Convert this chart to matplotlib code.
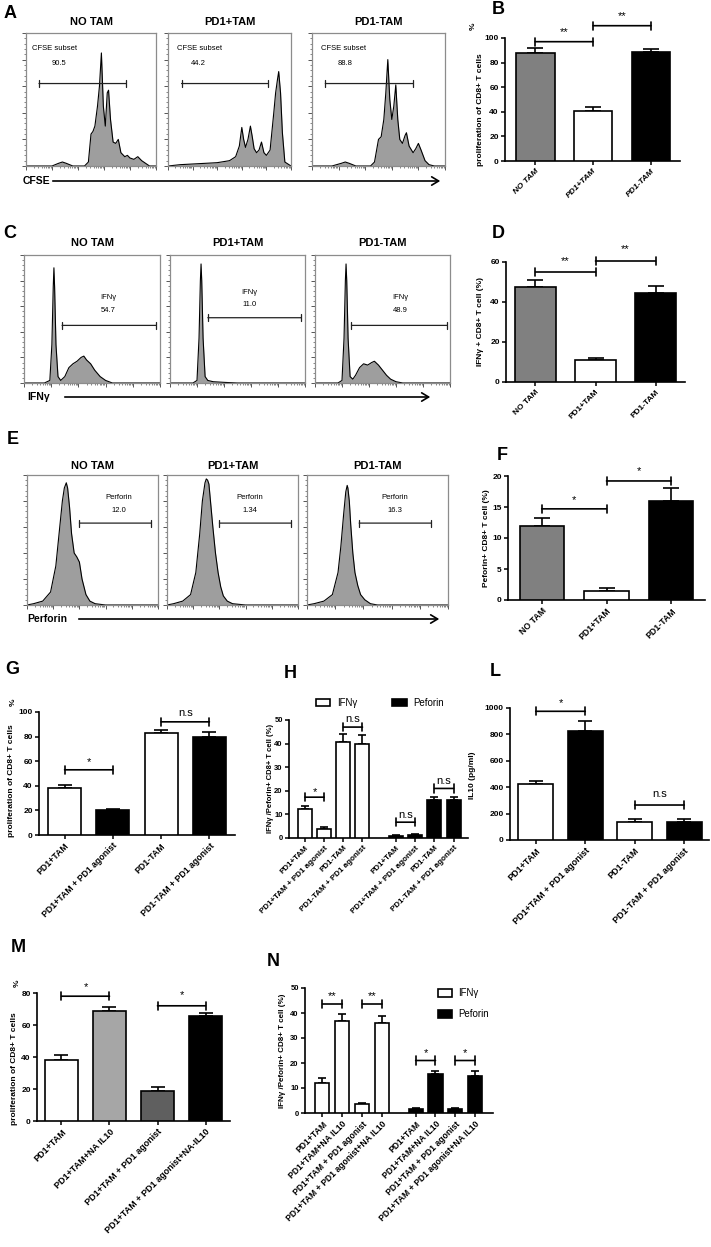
import numpy as np
import matplotlib
matplotlib.use('Agg')
import matplotlib.pyplot as plt
from matplotlib.patches import FancyArrowPatch, Rectangle

plt.rcParams['font.family'] = ['Liberation Sans', 'DejaVu Sans']

W, H = 711, 1247
fig = plt.figure(figsize=(W / 100, H / 100), dpi=100)


def px_axes(x0, y0, x1, y1):
    return fig.add_axes([x0 / W, 1 - y1 / H, (x1 - x0) / W, (y1 - y0) / H])


def ftext(x, y, s, **kw):
    fig.text(x / W, 1 - y / H, s, **kw)


# ---------------- flow histograms (x: fraction of log axis, y: fraction of box) ----------------
titles = ['NO TAM', 'PD1+TAM', 'PD1-TAM']

cfse_x = [
    [0, .2, .25, .28, .31, .36, .45, .48, .5, .515, .53, .55, .565, .58, .595, .61, .625, .635, .65, .67,
     .69, .71, .73, .76, .78, .8, .83, .86, .89, .92, .95, 1],
    [0, .1, .2, .3, .4, .5, .55, .58, .6, .615, .63, .65, .67, .685, .7, .72, .74, .76, .78, .8, .83, .86,
     .875, .89, .9, .915, .93, .95, 1],
    [0, .15, .22, .25, .28, .33, .44, .47, .5, .52, .54, .555, .57, .585, .6, .615, .63, .645, .66, .68,
     .7, .71, .73, .76, .78, .8, .82, .85, .88, .92, 1],
]
cfse_y = [
    [0, 0, .02, .03, .02, 0, 0, .03, .24, .26, .3, .45, .6, .85, .45, .3, .55, .57, .35, .18, .17, .2,
     .1, .07, .08, .06, .05, .07, .04, .02, 0, 0],
    [0, .01, .015, .02, .025, .04, .07, .15, .29, .2, .14, .2, .3, .22, .13, .1, .12, .18, .1, .08, .12,
     .4, .55, .65, .71, .55, .25, .03, 0],
    [0, 0, .02, .03, .02, 0, 0, .03, .2, .22, .35, .55, .8, .5, .35, .45, .61, .35, .2, .17, .23, .25,
     .15, .1, .13, .17, .12, .04, .01, 0, 0],
]
cfse_val = ['90.5', '44.2', '88.8']
cfse_gate = [(0.10, 0.77), (0.11, 0.81), (0.10, 0.76)]

ifng_x = [
    [0, .15, .19, .205, .215, .22, .225, .235, .25, .27, .3, .33, .36, .39, .42, .44, .46, .49, .52, .56,
     .6, .65, 1],
    [0, .17, .2, .215, .225, .23, .235, .245, .26, .28, .32, .4, .5, 1],
    [0, .17, .2, .215, .225, .23, .235, .245, .26, .28, .3, .33, .36, .39, .42, .44, .47, .5, .53, .56,
     .6, .65, 1],
]
ifng_y = [
    [0, 0, .02, .3, .75, .9, .75, .3, .05, .02, .05, .12, .15, .17, .2, .21, .18, .15, .1, .05, .02, 0, 0],
    [0, 0, .02, .35, .8, .93, .8, .35, .05, .02, .01, .005, 0, 0],
    [0, 0, .02, .35, .8, .93, .8, .35, .05, .03, .06, .12, .15, .14, .16, .17, .14, .1, .06, .03, .01, 0, 0],
]
ifng_val = ['54.7', '11.0', '48.9']
ifng_gate = [(0.28, 0.97), (0.28, 0.97), (0.27, 0.98)]

perf_x = [
    [0, .05, .12, .18, .22, .25, .27, .285, .3, .31, .325, .34, .36, .38, .4, .42, .45, .48, .52, .6, 1],
    [0, .05, .12, .18, .22, .25, .27, .29, .3, .31, .32, .33, .35, .37, .39, .41, .43, .46, .5, .6, 1],
    [0, .05, .12, .18, .22, .24, .26, .275, .285, .29, .3, .31, .325, .34, .36, .38, .41, .45, .5, 1],
]
perf_y = [
    [0, .01, .03, .1, .3, .6, .8, .9, .94, .9, .75, .55, .4, .37, .33, .2, .08, .03, .01, 0, 0],
    [0, .01, .03, .08, .25, .55, .8, .94, .97, .96, .93, .82, .6, .4, .25, .14, .07, .03, .01, 0, 0],
    [0, .01, .03, .08, .25, .45, .7, .87, .92, .9, .8, .62, .4, .25, .15, .08, .04, .01, 0, 0],
]
perf_val = ['12.0', '1.34', '16.3']
perf_gate = [(0.40, 0.95), (0.40, 0.95), (0.37, 0.88)]

A_boxes = [(26, 33, 156, 166), (168, 33, 291, 166), (312, 33, 445, 166)]
C_boxes = [(24, 255, 160, 383), (170, 255, 305, 383), (315, 255, 450, 383)]
E_boxes = [(27, 475, 158, 605), (167, 475, 298, 605), (307, 475, 448, 605)]

log_major = [0, .2, .4, .6, .8, 1.0]
log_minor = [d * 0.2 + 0.2 * np.log10(k) for d in range(5) for k in range(2, 10)]


def draw_hist(box, xs, ys, gate, gate_y):
    ax = px_axes(*box)
    ax.fill_between(xs, ys, color='#9e9e9e', lw=0)
    ax.plot(xs, ys, color='black', lw=0.8)
    ax.set_xlim(0, 1)
    ax.set_ylim(0, 1)
    for s in ax.spines.values():
        s.set_color('#8c8c8c')
        s.set_linewidth(0.9)
    ax.set_xticks(log_major)
    ax.set_xticks(log_minor, minor=True)
    ax.set_yticks(np.linspace(0, 1, 6))
    ax.set_yticks(np.linspace(0, 1, 26), minor=True)
    ax.tick_params(which='both', direction='out', color='#555555', labelleft=False, labelbottom=False)
    ax.tick_params(which='major', length=3, width=0.7)
    ax.tick_params(which='minor', length=1.5, width=0.5)
    ax.annotate('', xy=(gate[1], gate_y), xytext=(gate[0], gate_y), xycoords='axes fraction',
                arrowprops=dict(arrowstyle='|-|,widthA=0.25,widthB=0.25', lw=0.9, color='#222222',
                                shrinkA=0, shrinkB=0))
    return ax


title_kw = dict(fontsize=8, fontweight='bold', ha='center', va='center')

for i in range(3):
    ax = draw_hist(A_boxes[i], cfse_x[i], cfse_y[i], cfse_gate[i], 0.62)
    ax.text([0.05, 0.07, 0.07][i], 0.88, 'CFSE subset', fontsize=5.5, ha='left', va='center',
            transform=ax.transAxes)
    ax.text(0.25, 0.77, cfse_val[i], fontsize=5.5, ha='center', va='center', transform=ax.transAxes)
    b = A_boxes[i]
    ftext((b[0] + b[2]) / 2, 22, titles[i], **title_kw)

for i in range(3):
    ax = draw_hist(C_boxes[i], ifng_x[i], ifng_y[i], ifng_gate[i], [0.45, 0.51, 0.45][i])
    tx = [0.62, 0.59, 0.63][i]
    ty = [0.67, 0.71, 0.67][i]
    ax.text(tx, ty, 'IFNγ', fontsize=5.5, ha='center', va='center', transform=ax.transAxes)
    ax.text(tx, ty - 0.1, ifng_val[i], fontsize=5.5, ha='center', va='center', transform=ax.transAxes)
    b = C_boxes[i]
    ftext((b[0] + b[2]) / 2, 243, titles[i], **title_kw)

for i in range(3):
    ax = draw_hist(E_boxes[i], perf_x[i], perf_y[i], perf_gate[i], 0.63)
    tx = [0.70, 0.63, 0.62][i]
    ax.text(tx, 0.83, 'Perforin', fontsize=5.5, ha='center', va='center', transform=ax.transAxes)
    ax.text(tx, 0.73, perf_val[i], fontsize=5.5, ha='center', va='center', transform=ax.transAxes)
    b = E_boxes[i]
    ftext((b[0] + b[2]) / 2, 466, titles[i], **title_kw)


def fig_arrow(x0, x1, y):
    fig.add_artist(FancyArrowPatch((x0 / W, 1 - y / H), (x1 / W, 1 - y / H), transform=fig.transFigure,
                                   arrowstyle='->,head_length=0.5,head_width=0.3', mutation_scale=10,
                                   lw=1.2, color='black'))


ftext(23, 181, 'CFSE', fontsize=7.5, fontweight='bold', ha='left', va='center')
fig_arrow(50, 443, 181)
ftext(27, 397, 'IFNγ', fontsize=7.5, fontweight='bold', ha='left', va='center')
fig_arrow(62, 433, 397)
ftext(27, 619, 'Perforin', fontsize=7.5, fontweight='bold', ha='left', va='center')
fig_arrow(76, 442, 619)

# ---------------- bar charts ----------------
cats_B = ['NO TAM', 'PD1+TAM', 'PD1-TAM']
prolif_B = [88, 41, 89]
prolif_B_err = [4, 3, 2]
ifng_D = [47.5, 11, 44.5]
ifng_D_err = [3.5, 1, 3.5]
perf_F = [12, 1.5, 16]
perf_F_err = [1.3, 0.5, 2]
colors_BDF = ['#808080', 'white', 'black']

cats_G = ['PD1+TAM', 'PD1+TAM + PD1 agonist', 'PD1-TAM', 'PD1-TAM + PD1 agonist']
prolif_G = [38, 20, 83, 80]
prolif_G_err = [2.5, 1.5, 2, 4]
ifng_H = [12.5, 4, 40.5, 40]
ifng_H_err = [1.2, 0.5, 3.5, 3.5]
perf_H = [1, 1.2, 16, 16]
perf_H_err = [0.4, 0.4, 1.2, 1.3]
il10_L = [425, 825, 135, 140]
il10_L_err = [20, 75, 25, 20]

cats_M = ['PD1+TAM', 'PD1+TAM+NA IL10', 'PD1+TAM + PD1 agonist', 'PD1+TAM + PD1 agonist+NA-IL10']
prolif_M = [38, 69, 19, 65.5]
prolif_M_err = [3, 2, 2.5, 2]
cats_N = ['PD1+TAM', 'PD1+TAM+NA IL10', 'PD1+TAM + PD1 agonist', 'PD1+TAM + PD1 agonist+NA IL10']
ifng_N = [12, 37, 3.5, 36]
ifng_N_err = [2, 2.7, 0.5, 2.7]
perf_N = [1.5, 15.5, 1.5, 15]
perf_N_err = [0.4, 1.5, 0.4, 1.8]


def bar_panel(box, xlim, ylim, pos, vals, errs, colors, width, cap, yticks, labels, lab_size,
              brackets, italic=False, sig_size=8, tick_size=6):
    ax = px_axes(*box)
    ax.bar(pos, vals, width, color=colors, edgecolor='black', linewidth=1.2, zorder=3)
    ax.errorbar(pos, vals, yerr=[[0] * len(vals), errs], fmt='none', ecolor='black', elinewidth=1.2,
                capsize=cap, capthick=1.2, zorder=2)
    ax.set_xlim(*xlim)
    ax.set_ylim(*ylim)
    ax.spines[['top', 'right']].set_visible(False)
    for s in ['left', 'bottom']:
        ax.spines[s].set_linewidth(1.2)
    ax.set_yticks(yticks)
    ax.set_yticklabels([str(t) for t in yticks], fontsize=tick_size, fontweight='bold')
    ax.set_xticks(pos)
    ax.set_xticklabels(labels, rotation=45, ha='right', rotation_mode='anchor', fontsize=lab_size,
                       fontweight='bold', fontstyle='italic' if italic else 'normal')
    ax.tick_params(direction='out', length=3, width=1.1, pad=1.5)
    for i, j, y, txt, ty in brackets:
        ax.annotate('', xy=(pos[j], y), xytext=(pos[i], y), annotation_clip=False,
                    arrowprops=dict(arrowstyle='|-|,widthA=0.3,widthB=0.3', lw=1.2, color='black',
                                    shrinkA=0, shrinkB=0))
        ax.text((pos[i] + pos[j]) / 2, ty, txt, ha='center', va='center', fontsize=sig_size, clip_on=False)
    return ax


pos3 = [0, 1, 2]
pos4 = [0, 1, 2, 3]

bar_panel((505, 38, 680, 161), (-0.52, 2.5), (0, 100), pos3, prolif_B, prolif_B_err, colors_BDF, 0.67, 6,
          [0, 20, 40, 60, 80, 100], cats_B, 6, [(0, 1, 97, '**', 105), (1, 2, 110, '**', 118)], italic=True)
bar_panel((506, 262, 685, 382), (-0.49, 2.49), (0, 60), pos3, ifng_D, ifng_D_err, colors_BDF, 0.68, 6,
          [0, 20, 40, 60], cats_B, 6, [(0, 1, 55, '**', 60.5), (1, 2, 60.5, '**', 66.5)])
bar_panel((508, 476, 705, 600), (-0.52, 2.52), (0, 20), pos3, perf_F, perf_F_err, colors_BDF, 0.68, 6,
          [0, 5, 10, 15, 20], cats_B, 6.3, [(0, 1, 14.7, '*', 16.1), (1, 2, 19.2, '*', 20.8)])

bar_panel((39, 712, 235, 835), (-0.53, 3.53), (0, 100), pos4, prolif_G, prolif_G_err,
          ['white', 'black', 'white', 'black'], 0.68, 5, [0, 20, 40, 60, 80, 100], cats_G, 6.3,
          [(0, 1, 53, '*', 59), (2, 3, 92, 'n.s', 99.5)])

pos_H = [0, 1, 2, 3, 4.75, 5.75, 6.75, 7.75]
bar_panel((289, 720, 468, 838), (-0.83, 8.5), (0, 50), pos_H, ifng_H + perf_H, ifng_H_err + perf_H_err,
          ['white'] * 4 + ['black'] * 4, 0.73, 3, [0, 10, 20, 30, 40, 50], cats_G + cats_G, 5.8,
          [(0, 1, 17.3, '*', 19.3), (2, 3, 47, 'n.s', 50.3), (4, 5, 6.7, 'n.s', 9.9), (6, 7, 21, 'n.s', 24.3)],
          tick_size=5.5)

bar_panel((510, 708, 709, 840), (-0.52, 3.5), (0, 1000), pos4, il10_L, il10_L_err,
          ['white', 'black', 'white', 'black'], 0.7, 5, [0, 200, 400, 600, 800, 1000], cats_G, 6.5,
          [(0, 1, 975, '*', 1040), (2, 3, 265, 'n.s', 345)])

bar_panel((37, 993, 230, 1121), (-0.51, 3.51), (0, 80), pos4, prolif_M, prolif_M_err,
          ['white', '#a6a6a6', '#5f5f5f', 'black'], 0.69, 5, [0, 20, 40, 60, 80], cats_M, 6.5,
          [(0, 1, 78, '*', 84), (2, 3, 72, '*', 79)])

pos_N = [0, 1, 2, 3, 4.7, 5.7, 6.7, 7.7]
bar_panel((305, 988, 493, 1113), (-0.88, 8.6), (0, 50), pos_N, ifng_N + perf_N, ifng_N_err + perf_N_err,
          ['white'] * 4 + ['black'] * 4, 0.71, 3, [0, 10, 20, 30, 40, 50], cats_N + cats_N, 6.2,
          [(0, 1, 43.6, '**', 46.8), (2, 3, 43.6, '**', 46.8), (4, 5, 21, '*', 23.8), (6, 7, 21, '*', 23.8)],
          tick_size=5.5)

# y labels
yl = dict(fontsize=6, fontweight='bold', rotation=90, ha='center', va='center')
ftext(480, 110, 'proliferation of CD8+ T cells', **yl)
ftext(473, 26, '%', **yl)
ftext(480, 321, 'IFNγ + CD8+ T cell (%)', **yl)
ftext(487, 538, 'Peforin+ CD8+ T cell (%)', **yl)
ftext(12, 781, 'proliferation of CD8+ T cells', **yl)
ftext(13, 702, '%', **yl)
ftext(271, 778, 'IFNγ /Peforin+ CD8+ T cell (%)', **dict(yl, fontsize=5.5))
ftext(473, 775, 'IL10 (pg/ml)', **yl)
ftext(15, 1069, 'proliferation of CD8+ T cells', **yl)
ftext(17, 983, '%', **yl)
ftext(283, 1051, 'IFNγ /Peforin+ CD8+ T cell (%)', **dict(yl, fontsize=5.8))


# legends
def legend_box(x0, y0, x1, y1, color, label, tx):
    fig.add_artist(Rectangle((x0 / W, 1 - y1 / H), (x1 - x0) / W, (y1 - y0) / H, transform=fig.transFigure,
                             facecolor=color, edgecolor='black', lw=1.2))
    ftext(tx, (y0 + y1) / 2, label, fontsize=7, ha='left', va='center')


legend_box(316, 699, 330, 706, 'white', 'IFNγ', 337)
legend_box(392, 699, 407, 706, 'black', 'Peforin', 413)
legend_box(438, 989, 452, 997, 'white', 'IFNγ', 458)
legend_box(438, 1010, 452, 1018, 'black', 'Peforin', 458)

# panel letters
letter_kw = dict(fontsize=13, fontweight='bold', ha='center', va='center')
for s, x, y in [('A', 10, 13), ('B', 498, 10), ('C', 10, 233), ('D', 498, 233), ('E', 13, 440),
                ('F', 502, 455), ('G', 12, 670), ('H', 290, 674), ('L', 495, 672), ('M', 18, 947),
                ('N', 273, 962)]:
    ftext(x, y, s, **letter_kw)

fig.savefig('out.png', dpi=100)
